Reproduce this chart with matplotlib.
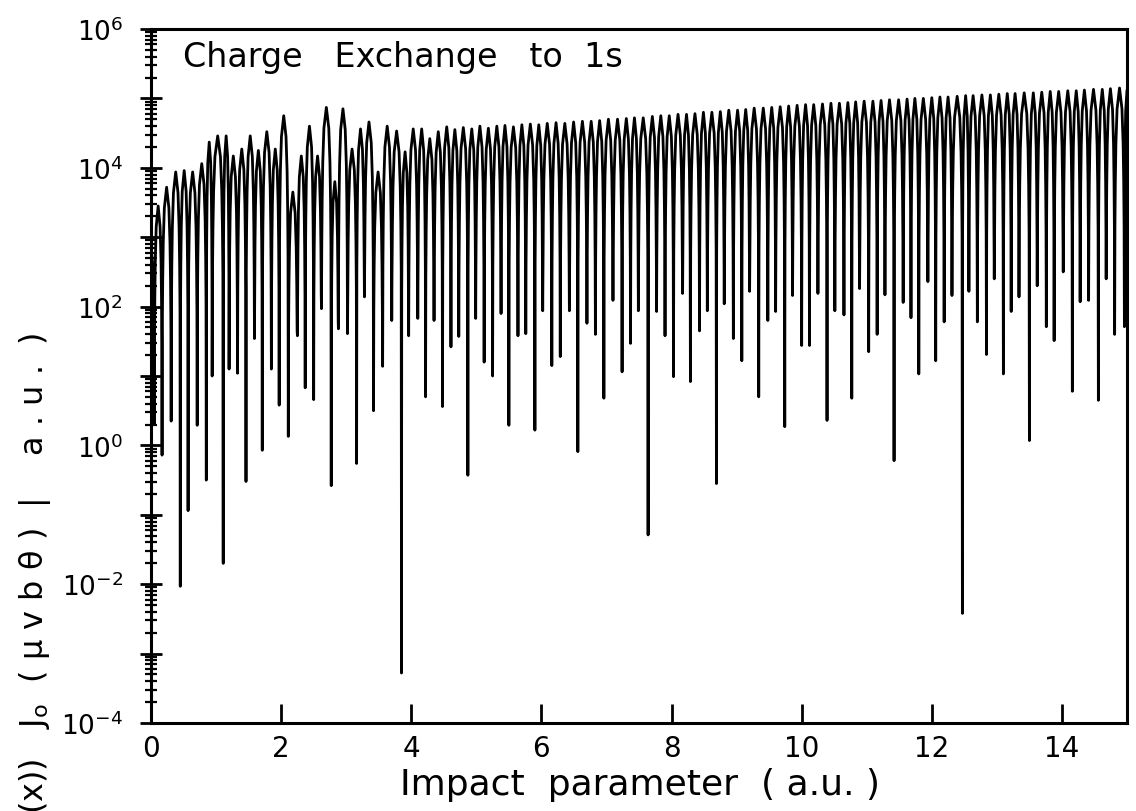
import numpy as np
import matplotlib
matplotlib.use("Agg")
import matplotlib.pyplot as plt
from matplotlib.ticker import FixedLocator, FuncFormatter, LogLocator, NullFormatter

# ---------------- data ----------------
# impact parameter of every minimum of the oscillating curve (a.u.)
DIP_B = [
    0.05, 0.17, 0.31, 0.45, 0.57, 0.71, 0.85, 0.94, 1.11, 1.20,
    1.33, 1.46, 1.59, 1.71, 1.85, 1.97, 2.11, 2.25, 2.37, 2.50,
    2.62, 2.77, 2.88, 3.02, 3.16, 3.28, 3.42, 3.56, 3.70, 3.85,
    3.96, 4.10, 4.22, 4.35, 4.48, 4.61, 4.73, 4.87, 4.99, 5.12,
    5.25, 5.38, 5.50, 5.64, 5.76, 5.90, 6.02, 6.16, 6.29, 6.43,
    6.56, 6.70, 6.83, 6.96, 7.10, 7.24, 7.37, 7.49, 7.64, 7.77,
    7.90, 8.03, 8.17, 8.29, 8.43, 8.55, 8.69, 8.81, 8.95, 9.08,
    9.20, 9.34, 9.48, 9.60, 9.74, 9.86, 10.00, 10.12, 10.25, 10.39,
    10.51, 10.65, 10.77, 10.89, 11.03, 11.16, 11.28, 11.42, 11.56, 11.68,
    11.80, 11.94, 12.06, 12.19, 12.31, 12.47, 12.57, 12.70, 12.84, 12.96,
    13.10, 13.22, 13.34, 13.50, 13.62, 13.76, 13.88, 14.02, 14.16, 14.28,
    14.41, 14.56, 14.68, 14.81, 14.96,
]
# log10 of the curve at each minimum
DIP_LOG = [
    0.30, -0.14, 0.35, -2.03, -0.94, 0.29, -0.50, 1.00, -1.70, 1.10,
    1.04, -0.52, 1.54, -0.07, 1.10, 0.58, 0.13, 1.58, 0.83, 0.66,
    1.97, -0.58, 1.68, 1.61, -0.26, 2.14, 0.50, 1.14, 1.80, -3.28,
    1.58, 1.83, 0.70, 1.80, 0.56, 1.42, 1.57, -0.43, 1.83, 1.20,
    1.00, 1.90, 0.29, 1.58, 1.61, 0.22, 1.94, 1.15, 1.28, 1.94,
    -0.09, 1.76, 1.60, 0.68, 2.09, 1.06, 1.47, 1.94, -1.29, 1.93,
    1.58, 0.99, 2.19, 0.92, 1.65, 1.94, -0.55, 2.04, 1.54, 1.22,
    2.22, 0.70, 1.80, 1.93, 0.27, 2.16, 1.44, 1.44, 2.19, 0.36,
    1.94, 1.88, 0.68, 2.26, 1.35, 1.60, 2.17, -0.22, 2.06, 1.84,
    1.03, 2.36, 1.22, 1.78, 2.16, -2.42, 2.22, 1.78, 1.31, 2.40,
    1.03, 1.93, 2.14, 0.07, 2.30, 1.71, 1.51, 2.50, 0.78, 2.07,
    2.09, 0.65, 2.40, 1.60, 1.71,
]
# log10 of the maximum between consecutive minima
PEAK_LOG = [
    3.45, 3.72, 3.94, 3.96, 3.94, 4.06, 4.37, 4.46, 4.46, 4.17,
    4.27, 4.46, 4.25, 4.52, 4.27, 4.75, 3.65, 4.17, 4.60, 4.17,
    4.87, 3.80, 4.85, 4.27, 4.56, 4.66, 3.94, 4.60, 4.53, 4.23,
    4.56, 4.56, 4.42, 4.52, 4.59, 4.55, 4.58, 4.56, 4.60, 4.57,
    4.60, 4.61, 4.59, 4.62, 4.63, 4.62, 4.64, 4.65, 4.64, 4.66,
    4.67, 4.67, 4.68, 4.70, 4.70, 4.71, 4.72, 4.72, 4.74, 4.75,
    4.75, 4.77, 4.77, 4.78, 4.80, 4.80, 4.81, 4.83, 4.83, 4.84,
    4.86, 4.86, 4.87, 4.88, 4.89, 4.90, 4.91, 4.91, 4.92, 4.93,
    4.93, 4.94, 4.95, 4.96, 4.96, 4.97, 4.98, 4.98, 4.99, 5.00,
    5.00, 5.01, 5.02, 5.02, 5.03, 5.04, 5.04, 5.05, 5.05, 5.06,
    5.07, 5.07, 5.08, 5.08, 5.09, 5.10, 5.10, 5.11, 5.11, 5.12,
    5.13, 5.13, 5.14, 5.15,
]
START_LOG = 2.9    # value at b = 0
END_LOG = 5.12     # value at b = 15

X_TICKS = [0, 2, 4, 6, 8, 10, 12, 14]
X_LIMITS = (0, 15)
Y_LIMITS = (1e-4, 1e6)
TITLE = "Charge   Exchange   to  1s"
X_LABEL = "Impact  parameter  ( a.u. )"
Y_LABEL = r"(x))   J$_{\mathrm{o}}$  ( μ v b θ )  |    a . u .  )"

# ---------------- style: shape of one oscillation arch ----------------
ARCH_T = [0.03, 0.07, 0.13, 0.25, 0.5, 0.75, 0.87, 0.93, 0.97]
ARCH_DROP = [-2.0, -1.35, -0.8, -0.3, 0.0, -0.3, -0.8, -1.35, -2.0]

assert len(DIP_B) == len(DIP_LOG) == len(PEAK_LOG) + 1

xs, ys = [0.0], [START_LOG]
d0 = DIP_B[0]
for t, dr in zip(ARCH_T, ARCH_DROP):
    if t > 0.5:
        xs.append((t - 0.5) * 2 * d0)
        ys.append(max(START_LOG + dr, DIP_LOG[0]))
xs.append(d0)
ys.append(DIP_LOG[0])
for k, p in enumerate(PEAK_LOG):
    xl, xr = DIP_B[k], DIP_B[k + 1]
    for t, dr in zip(ARCH_T, ARCH_DROP):
        floor = DIP_LOG[k] if t < 0.5 else DIP_LOG[k + 1]
        xs.append(xl + t * (xr - xl))
        ys.append(max(p + dr, floor))
    xs.append(xr)
    ys.append(DIP_LOG[k + 1])
xl, xr = DIP_B[-1], X_LIMITS[1]
for t, dr in zip(ARCH_T, ARCH_DROP):
    if t <= 0.5:
        xs.append(xl + (t / 0.5) * (xr - xl))
        ys.append(max(END_LOG + dr, DIP_LOG[-1]))

# ---------------- figure ----------------
plt.rcParams["font.family"] = ["DejaVu Sans"]
plt.rcParams["mathtext.fontset"] = "dejavusans"

W, H = 1136, 812
fig = plt.figure(figsize=(W / 100, H / 100), dpi=100)
L, R, T, B = 151, 1127, 30, 724
ax = fig.add_axes([L / W, 1 - B / H, (R - L) / W, (B - T) / H])

ax.plot(xs, 10 ** np.array(ys), color="black", lw=2.0,
        solid_joinstyle="round", solid_capstyle="round")

ax.set_yscale("log")
ax.set_xlim(*X_LIMITS)
ax.set_ylim(*Y_LIMITS)

ax.xaxis.set_major_locator(FixedLocator(X_TICKS))
ax.xaxis.set_major_formatter(FuncFormatter(lambda v, p: f"{int(v)}"))
ax.yaxis.set_major_locator(LogLocator(base=10, numticks=30))
ax.yaxis.set_minor_locator(LogLocator(base=10, subs=range(2, 10), numticks=100))
ax.yaxis.set_minor_formatter(NullFormatter())


def ylab(v, pos):
    e = int(round(np.log10(v)))
    return f"$10^{{{e}}}$" if e % 2 == 0 else ""


ax.yaxis.set_major_formatter(FuncFormatter(ylab))

for s in ax.spines.values():
    s.set_linewidth(2.2)

ax.tick_params(axis="y", which="major", direction="inout", length=16,
               width=2.0, pad=12, labelsize=19)
ax.tick_params(axis="y", which="minor", direction="inout", length=8,
               width=1.6)
ax.tick_params(axis="x", which="major", direction="in", length=14,
               width=2.0, pad=8, labelsize=20)

ax.text((183 - L) / (R - L), (B - 67) / (B - T), TITLE,
        transform=ax.transAxes, ha="left", va="baseline", fontsize=24)

fig.text(640 / W, 1 - 785 / H, X_LABEL, ha="center", va="center",
         fontsize=26)
fig.text(35 / W, 1 - 333 / H, Y_LABEL, rotation=90, ha="center", va="top",
         fontsize=23)

fig.savefig("out.png", dpi=100)
